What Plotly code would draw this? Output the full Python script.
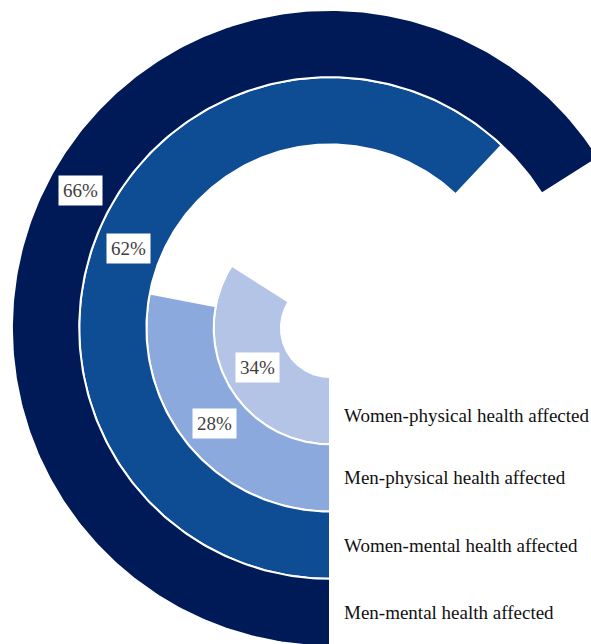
import numpy as np
import plotly.graph_objects as go

# Rings listed from the innermost to the outermost
groups = [
    "Women-physical health affected",
    "Men-physical health affected",
    "Women-mental health affected",
    "Men-mental health affected",
]
shares = [34, 28, 62, 66]
colors = ["#B4C4E7", "#8BA9DC", "#0E4C93", "#001A57"]

W, H = 591, 644
HOLE = 0.73        # radius of the empty centre, in ring widths
PX = 67.25         # pixels per ring width
CX, CY = 330, 328  # ring centre, pixels from the top-left corner


def ring_point(phi_deg, r):
    """Angle measured clockwise from straight down."""
    phi = np.radians(phi_deg)
    return -r * np.sin(phi), -r * np.cos(phi)


fig = go.Figure()
for i, (name, pct, col) in enumerate(zip(groups, shares, colors)):
    r_in = HOLE + i
    r_out = r_in + 1
    sweep = pct / 100 * 360
    phi = np.linspace(0, sweep, 300)
    xo, yo = ring_point(phi, r_out)
    xi, yi = ring_point(phi[::-1], r_in)
    fig.add_trace(go.Scatter(
        x=np.concatenate([xo, xi, xo[:1]]),
        y=np.concatenate([yo, yi, yo[:1]]),
        mode="lines",
        fill="toself",
        fillcolor=col,
        line=dict(color="white", width=2),
        name=name,
        hoverinfo="name",
        showlegend=False,
    ))
    # value label at the middle of each arc
    lx, ly = ring_point(sweep / 2, r_in + 0.5)
    fig.add_annotation(
        x=lx, y=ly, text=f"{pct}%", showarrow=False,
        bgcolor="white", borderpad=4,
        font=dict(family="Liberation Serif", size=19, color="#404040"),
    )
    # series name beside the start of each ring
    fig.add_annotation(
        x=12 / PX, y=-(r_in + 0.5), text=name, showarrow=False,
        xanchor="left", yanchor="middle",
        yshift=-5 if i == 0 else 0,
        font=dict(family="Liberation Serif", size=19, color="#111111"),
    )

fig.update_xaxes(range=[-CX / PX, (W - CX) / PX], visible=False, fixedrange=True)
fig.update_yaxes(range=[-(H - CY) / PX, CY / PX], visible=False, fixedrange=True)
fig.update_layout(
    width=W, height=H, autosize=False,
    margin=dict(l=0, r=0, t=0, b=0),
    paper_bgcolor="white", plot_bgcolor="white",
    showlegend=False,
)

fig.write_html("out.html")
